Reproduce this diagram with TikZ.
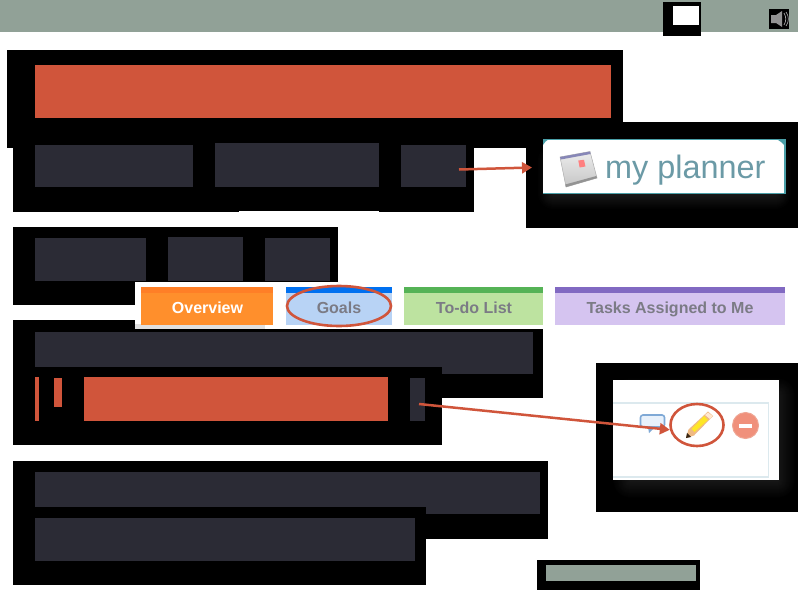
\documentclass[tikz,border=0pt]{standalone}
\usepackage{fontspec}
\setmainfont{Liberation Sans}
\usetikzlibrary{arrows.meta,shapes.geometric}
\definecolor{rust}{HTML}{D0553B}
\definecolor{slatebar}{HTML}{2B2B35}
\definecolor{sage}{HTML}{91A197}
\definecolor{tealedge}{HTML}{4A9FA8}
\definecolor{tabtext}{HTML}{7B7B85}
\definecolor{planner}{HTML}{6B9AA6}
\definecolor{panel}{HTML}{DCE9EE}
\definecolor{ovA}{HTML}{FF7F27}\definecolor{ovB}{HTML}{FF8F2C}
\definecolor{goA}{HTML}{0070F0}\definecolor{goB}{HTML}{B8D3F5}
\definecolor{tdA}{HTML}{55B356}\definecolor{tdB}{HTML}{BDE3A0}
\definecolor{taA}{HTML}{8169C2}\definecolor{taB}{HTML}{D5C4F0}
\definecolor{bubble}{HTML}{7FA9D6}
\definecolor{bubblefill}{HTML}{E8F1FB}
\definecolor{minusred}{HTML}{F0907B}
\definecolor{minusedge}{HTML}{EFA593}
\tikzset{
  tabtitle/.style={font=\fontsize{16}{18}\selectfont\bfseries, text=tabtext, inner sep=0pt, anchor=base},
  ring/.style={draw=rust, line width=2.6pt, fill=none, ellipse, inner sep=0pt},
  pointer/.style={draw=rust, line width=2.5pt, -{Triangle[length=10pt,width=11pt]}},
}
\begin{document}
\begin{tikzpicture}[x=1pt,y=-1pt]
\useasboundingbox (0,0) rectangle (800,600);
\fill[white] (0,0) rectangle (800,600);
% top bar
\fill[sage] (0,0) rectangle (798,32);
\fill[black] (663,2) rectangle (701,36);
\fill[white] (673,6) rectangle (699,25);
\fill[black] (769,9) rectangle (789,29);
\fill[gray!85] (771,15) -- (776,15) -- (782,11) -- (782,27) -- (776,23) -- (771,23) -- cycle;
\draw[gray!70,line width=.7pt] (784,13) to[bend left=30] (784,25);
\draw[gray!70,line width=.7pt] (786,12) to[bend left=35] (786,26);
% black masks
\fill[black] (7,50) rectangle (623,148);
\fill[black] (13,148) rectangle (474,212);
\fill[white] (239,211) rectangle (379,212);
\fill[black] (13,227) rectangle (338,282);
\fill[black] (13,282) rectangle (135,305);
\fill[black] (13,320) rectangle (135,330);
\fill[black] (13,329) rectangle (543,398);
\fill[black] (13,398) rectangle (442,445);
\fill[black] (13,461) rectangle (548,539);
\fill[black] (13,539) rectangle (426,585);
\fill[black] (537,560) rectangle (700,590);
\fill[black] (526,122) rectangle (798,228);
\fill[black] (596,363) rectangle (798,512);
% bars
\fill[rust] (35,65) rectangle (611,118);
\fill[slatebar] (35,145) rectangle (193,187);
\fill[slatebar] (215,143) rectangle (379,187);
\fill[slatebar] (401,145) rectangle (466,187);
\fill[slatebar] (35,238) rectangle (146,281);
\fill[slatebar] (168,237) rectangle (243,281);
\fill[slatebar] (265,238) rectangle (330,281);
\fill[slatebar] (35,332) rectangle (533,367);
\fill[slatebar] (442,367) rectangle (533,374);
\fill[rust] (35,377) rectangle (39,421);
\fill[rust] (54,378) rectangle (62,407);
\fill[rust] (84,377) rectangle (388,421);
\fill[slatebar] (410,378) rectangle (425,421);
\fill[slatebar] (35,472) rectangle (540,507);
\fill[slatebar] (426,507) rectangle (540,514);
\fill[slatebar] (35,518) rectangle (415,561);
\fill[sage] (546,565) rectangle (696,581);
% tabs
\fill[white] (135,282) rectangle (392,329);
\fill[black!12] (135,324) rectangle (265,329);
\fill[black] (135,329) rectangle (543,330);
\fill[ovB] (141,287) rectangle (273,324.5); \fill[ovA] (141,287) rectangle (273,293);
\fill[goB] (286,287) rectangle (392,324.5); \fill[goA] (286,287) rectangle (392,293);
\fill[tdB] (404,287) rectangle (543,324.5); \fill[tdA] (404,287) rectangle (543,293);
\fill[taB] (555,287) rectangle (785,324.5); \fill[taA] (555,287) rectangle (785,293);
\node[tabtitle,text=white] (overview) at (207.5,313.5) {Overview};
\node[tabtitle] (goals) at (339,313.5) {Goals};
\node[tabtitle] (todo) at (474,313.5) {To-do List};
\node[tabtitle] (tasks) at (670,313.5) {Tasks Assigned to Me};
\node[ring,minimum width=104pt,minimum height=40pt] (goalring) at (339,306) {};
% my planner card
\foreach \d in {16,15,...,1}{
  \pgfmathsetmacro{\lev}{10*(1-\d/16)}
  \fill[white!\lev!black,rounded corners=\d pt] (553-\d,160-\d) rectangle (776+\d,194+\d);
}
\fill[white] (543,139) rectangle (785,194);
\fill[tealedge] (543,139) rectangle (785.5,140);
\fill[tealedge] (543,193.4) rectangle (785.5,194.4);
\fill[tealedge] (784.2,139) rectangle (785.6,194.4);
\fill[tealedge] (543,139) -- (549,139) to[bend right=15] (543,145) -- cycle;
\fill[tealedge] (785.5,139) -- (776,139) to[bend left=15] (785.5,147) -- cycle;
\node[anchor=base west,inner sep=0pt,text=planner,font=\fontsize{32.4}{36}\selectfont] (plannerlabel) at (605,178) {my planner};
\shade[top color=gray!15,bottom color=gray!45,draw=gray!65,line width=.5pt] (560,157) -- (590,151.5) -- (597,178) -- (566,187) -- cycle;
\fill[blue!25!gray!75] (560,157) -- (590,151.5) -- (590.6,154) -- (560.8,159.5) -- cycle;
\fill[gray!85] (565.3,184.5) -- (596.3,176) -- (597,178) -- (566,187) -- cycle;
\fill[red!50!white] (578.3,160.5) -- (584,159.8) -- (585.4,166.5) -- (579.6,167.5) -- cycle;
% pencil panel
\foreach \d in {18,17,...,1}{
  \pgfmathsetmacro{\lev}{9*(1-\d/18)}
  \fill[white!\lev!black,rounded corners=\d pt] (630-\d,395-\d) rectangle (778+\d,481+\d);
}
\fill[white] (613,380) rectangle (779,480);
\draw[panel,line width=1.4pt] (613,403) -- (768.5,403) -- (768.5,477) -- (613,477);
% comment icon
\draw[rounded corners=2.5pt,draw=bubble,fill=bubblefill,line width=1.6pt] (640.5,415) rectangle (664.5,427);
\fill[bubble] (648,427) -- (655,427) -- (649,433) -- cycle;
% minus icon
\node[circle,fill=minusred,draw=minusedge,line width=1pt,minimum size=26pt,inner sep=0pt] (minusicon) at (745.5,425.5) {};
\fill[white] (739,424) rectangle (751.5,427.5);
% pencil icon
\fill[orange!55!brown!55!white] (708,411.5) -- (713,416) -- (694,435.5) -- (686,438) -- (688.5,429.5) -- cycle;
\fill[yellow!85!orange!85!white] (704,416) -- (708,420) -- (694.5,432) -- (691.5,429) -- cycle;
\fill[black!70!brown] (686,438) -- (687,433) -- (691,437) -- cycle;
\fill[orange!18] (708,412.5) -- (712.5,416) -- (710,419) -- (705,415) -- cycle;
\node[ring,minimum width=53pt,minimum height=42pt] (pencilring) at (697,425) {};
% arrows
\coordinate (plannersrc) at (459,169.5);
\coordinate (plannerdst) at (532,167.5);
\coordinate (pencilsrc) at (419,404);
\draw[pointer] (plannersrc) -- (plannerdst);
\draw[pointer] (pencilsrc) -- (pencilring.190);
\end{tikzpicture}
\end{document}
